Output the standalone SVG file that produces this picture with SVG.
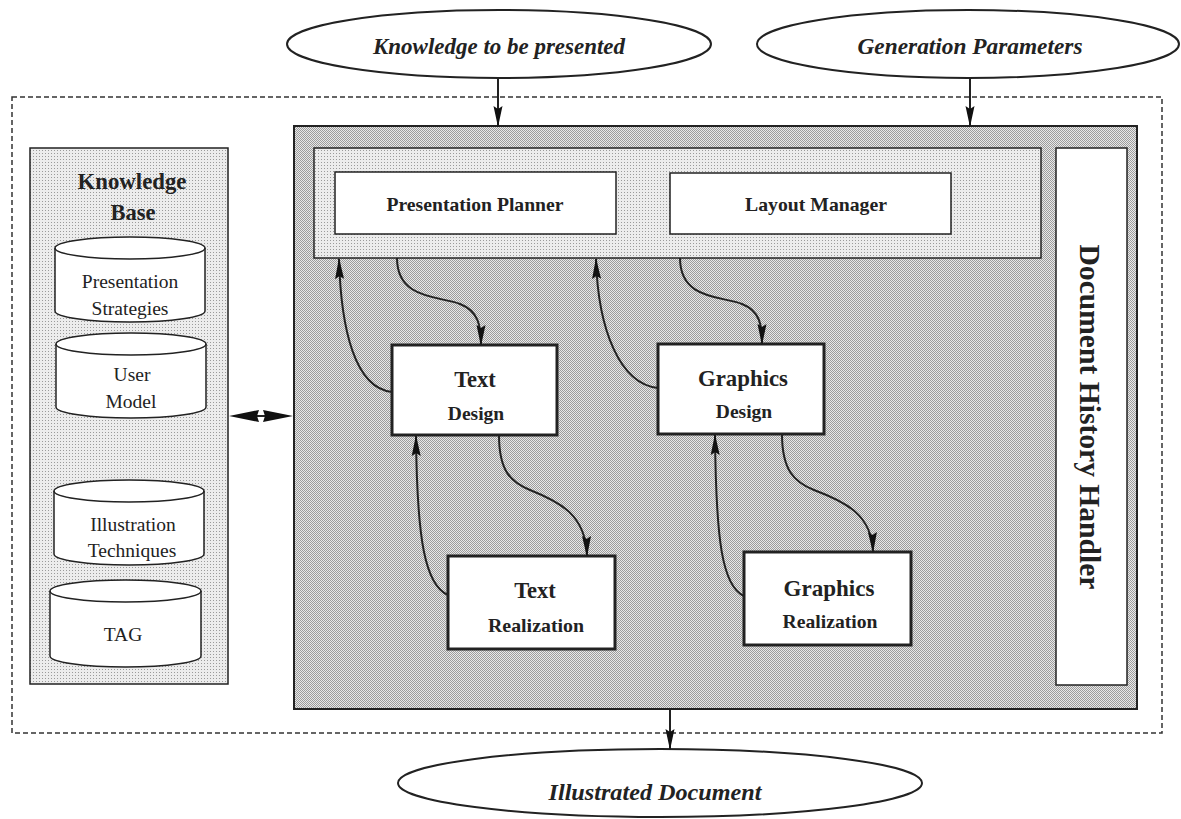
<svg xmlns="http://www.w3.org/2000/svg" width="1181" height="819" viewBox="0 0 1181 819">
<defs>
  <pattern id="dark" width="2" height="2" patternUnits="userSpaceOnUse">
    <rect width="2" height="2" fill="#e8e8e8"/>
    <rect width="1" height="1" fill="#9c9c9c"/>
    <rect x="1" y="1" width="1" height="1" fill="#9c9c9c"/>
  </pattern>
  <pattern id="light" width="3" height="3" patternUnits="userSpaceOnUse">
    <rect width="3" height="3" fill="#ececec"/>
    <rect width="1" height="1" fill="#9a9a9a"/>
  </pattern>
  <marker id="ah" markerWidth="21" markerHeight="10" refX="20" refY="5" orient="auto" markerUnits="userSpaceOnUse">
    <path d="M0,0.5 L21,5 L0,9.5 L3,5 Z" fill="#111"/>
  </marker>
</defs>
<style>
  .serif { font-family: "Liberation Serif", "Times New Roman", serif; fill: #222; }
  .bi { font-weight: bold; font-style: italic; font-size: 23px; text-anchor: middle; }
  .b19 { font-weight: bold; font-size: 19.5px; text-anchor: middle; }
  .b22 { font-weight: bold; font-size: 22.5px; text-anchor: middle; }
  .r19 { font-size: 19.5px; text-anchor: middle; }
  .oval { fill: #fff; stroke: #222; stroke-width: 2; }
  .wbox { fill: #fff; stroke: #222; stroke-width: 1.5; }
  .tbox { fill: #fff; stroke: #222; stroke-width: 3; }
  .cyl { fill: #fff; stroke: #222; stroke-width: 1.5; }
  .conn { fill: none; stroke: #222; stroke-width: 2; marker-end: url(#ah); }
</style>
<rect width="1181" height="819" fill="#fff"/>

<g id="system-boundary">
  <rect x="12" y="97" width="1150" height="636" fill="none" stroke="#333" stroke-width="1.5" stroke-dasharray="5,3"/>
</g>

<g id="knowledge-to-be-presented">
  <ellipse class="oval" cx="499" cy="44" rx="212" ry="34"/>
  <text class="serif bi" x="499" y="54" textLength="252" lengthAdjust="spacingAndGlyphs">Knowledge to be presented</text>
</g>
<g id="generation-parameters">
  <ellipse class="oval" cx="968" cy="44" rx="211" ry="34"/>
  <text class="serif bi" x="970" y="54" textLength="225" lengthAdjust="spacingAndGlyphs">Generation Parameters</text>
</g>

<g id="knowledge-base">
  <rect x="30" y="148" width="198" height="536" fill="url(#light)" stroke="#222" stroke-width="1.5"/>
  <text class="serif b22" x="132" y="189" textLength="109" lengthAdjust="spacingAndGlyphs">Knowledge</text>
  <text class="serif b22" x="133" y="220">Base</text>
</g>
<g id="presentation-strategies">
  <path class="cyl" d="M55,248 A75,11 0 0 1 205,248 L205,311 A75,11 0 0 1 55,311 Z"/>
  <path d="M55,248 A75,11 0 0 0 205,248" fill="none" stroke="#222" stroke-width="1.5"/>
  <text class="serif r19" x="130" y="288">Presentation</text>
  <text class="serif r19" x="130" y="315">Strategies</text>
</g>
<g id="user-model">
  <path class="cyl" d="M56,344 A75,11 0 0 1 206,344 L206,407 A75,11 0 0 1 56,407 Z"/>
  <path d="M56,344 A75,11 0 0 0 206,344" fill="none" stroke="#222" stroke-width="1.5"/>
  <text class="serif r19" x="132" y="381">User</text>
  <text class="serif r19" x="131" y="408">Model</text>
</g>
<g id="illustration-techniques">
  <path class="cyl" d="M54,491 A75,11 0 0 1 204,491 L204,554 A75,11 0 0 1 54,554 Z"/>
  <path d="M54,491 A75,11 0 0 0 204,491" fill="none" stroke="#222" stroke-width="1.5"/>
  <text class="serif r19" x="133" y="531">Illustration</text>
  <text class="serif r19" x="132" y="557">Techniques</text>
</g>
<g id="tag">
  <path class="cyl" d="M50,591 A75.5,11 0 0 1 201,591 L201,656 A75.5,11 0 0 1 50,656 Z"/>
  <path d="M50,591 A75.5,11 0 0 0 201,591" fill="none" stroke="#222" stroke-width="1.5"/>
  <text class="serif r19" x="123" y="641">TAG</text>
</g>

<g id="main-system">
  <rect x="294" y="126" width="843" height="583" fill="url(#dark)" stroke="#222" stroke-width="2"/>
</g>
<g id="planning-layer">
  <rect x="314" y="148" width="727" height="110" fill="url(#light)" stroke="#222" stroke-width="1.5"/>
</g>
<g id="presentation-planner">
  <rect class="wbox" x="335" y="172" width="281" height="62"/>
  <text class="serif b19" x="475" y="211" textLength="177" lengthAdjust="spacingAndGlyphs">Presentation Planner</text>
</g>
<g id="layout-manager">
  <rect class="wbox" x="670" y="173" width="281" height="61"/>
  <text class="serif b19" x="816" y="211" textLength="142" lengthAdjust="spacingAndGlyphs">Layout Manager</text>
</g>
<g id="document-history-handler">
  <rect class="wbox" x="1056" y="148" width="71" height="537"/>
  <text class="serif" font-size="29" font-weight="bold" text-anchor="middle" textLength="345" lengthAdjust="spacingAndGlyphs" transform="translate(1080,417) rotate(90)">Document History Handler</text>
</g>
<g id="text-design">
  <rect class="tbox" x="392" y="345" width="165" height="90"/>
  <text class="serif b22" x="475" y="387">Text</text>
  <text class="serif b19" x="476" y="420">Design</text>
</g>
<g id="graphics-design">
  <rect class="tbox" x="658" y="344" width="166" height="90"/>
  <text class="serif b22" x="743" y="386" textLength="90" lengthAdjust="spacingAndGlyphs">Graphics</text>
  <text class="serif b19" x="744" y="418">Design</text>
</g>
<g id="text-realization">
  <rect class="tbox" x="448" y="556" width="167" height="93"/>
  <text class="serif b22" x="535" y="598">Text</text>
  <text class="serif b19" x="536" y="632" textLength="96" lengthAdjust="spacingAndGlyphs">Realization</text>
</g>
<g id="graphics-realization">
  <rect class="tbox" x="744" y="552" width="167" height="93"/>
  <text class="serif b22" x="829" y="596" textLength="91" lengthAdjust="spacingAndGlyphs">Graphics</text>
  <text class="serif b19" x="830" y="628" textLength="95" lengthAdjust="spacingAndGlyphs">Realization</text>
</g>

<g id="illustrated-document">
  <ellipse class="oval" cx="660" cy="783" rx="262" ry="34"/>
  <text class="serif bi" x="655" y="800" textLength="213" lengthAdjust="spacingAndGlyphs">Illustrated Document</text>
</g>

<g id="connectors">
  <line class="conn" x1="498" y1="78" x2="498" y2="126"/>
  <line class="conn" x1="970" y1="78" x2="970" y2="126"/>
  <line class="conn" x1="670" y1="709" x2="670" y2="749"/>
  <g id="kb-link">
    <line x1="240" y1="416" x2="282" y2="416" stroke="#222" stroke-width="2"/>
    <path d="M229,416 L259,410 L257,416 L259,422 Z" fill="#111"/>
    <path d="M293,416 L263,410 L265,416 L263,422 Z" fill="#111"/>
  </g>
  <path class="conn" d="M392,392 C355,388 341,330 339,259"/>
  <path class="conn" d="M397,258 C397,300 440,296 460,304 C478,311 481,325 481,345"/>
  <path class="conn" d="M658,388 C620,384 598,330 596,259"/>
  <path class="conn" d="M680,258 C680,300 722,296 742,304 C760,311 762,325 762,344"/>
  <path class="conn" d="M448,595 C425,585 417,540 416,436"/>
  <path class="conn" d="M499,435 C499,470 510,482 530,490 C560,502 586,515 587,556"/>
  <path class="conn" d="M744,596 C722,586 716,540 715,435"/>
  <path class="conn" d="M782,434 C782,470 794,482 814,490 C846,502 872,515 873,552"/>
</g>
</svg>
